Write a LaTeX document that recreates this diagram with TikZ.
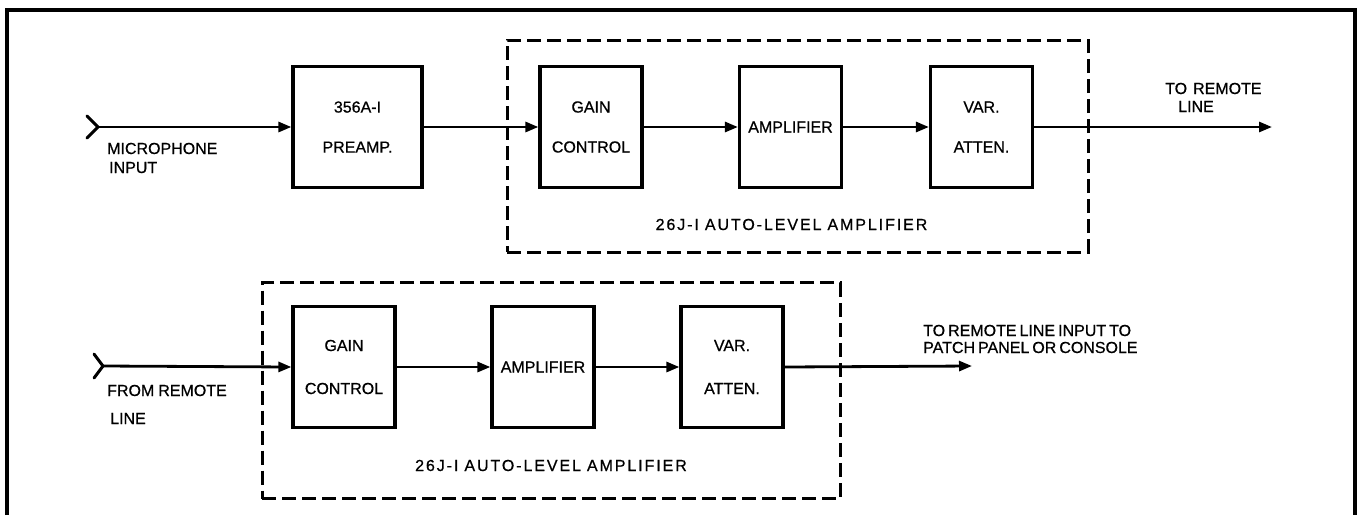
\documentclass[tikz,border=0pt]{standalone}
\usepackage{fontspec}
\setmainfont{Liberation Sans}[FakeBold=0.7]
\usetikzlibrary{arrows.meta}
\begin{document}
\begin{tikzpicture}[x=1pt,y=-1pt,
  lbl/.style={font=\fontsize{16}{19}\selectfont, inner sep=0pt},
  blk/.style={draw, line width=3.2pt, minimum width=102pt, minimum height=121pt,
              inner sep=0pt, align=center, font=\fontsize{16}{19}\selectfont},
  grp/.style={draw, line width=3pt, dash pattern=on 14pt off 6pt,
              inner sep=0pt},
  conn/.style={line width=2.8pt},
  arr/.style={conn, -{Triangle[length=13pt,width=10pt]}},
  jack/.style={line width=3pt, line cap=round}]
\useasboundingbox (0,0) rectangle (1359,515);
\draw[line width=3.4pt] (7,515) -- (7,10) -- (1355,10) -- (1355,515);

% ---------- top chain ----------
\node[grp, minimum width=581pt, minimum height=212pt] (grp1) at (797.5,146) {};
\node[blk, minimum width=129pt] (pre) at (357.5,127) {356A-I\\[21pt]PREAMP.};
\node[blk] (gain1) at (591,127) {GAIN\\[21pt]CONTROL};
\node[blk] (amp1) at (790.5,127) {AMPLIFIER};
\node[blk] (var1) at (981.5,127) {VAR.\\[21pt]ATTEN.};
\coordinate (mic) at (98,127);
\coordinate (out1) at (1272,127);
\draw[jack] (mic) -- ++(-11,-11) (mic) -- ++(-11,11);
\draw[arr] (mic) -- (pre.west);
\draw[arr] (pre.east) -- (gain1.west);
\draw[arr] (gain1.east) -- (amp1.west);
\draw[arr] (amp1.east) -- (var1.west);
\draw[arr] (var1.east) -- (out1);
\node[lbl, anchor=base west] (micA) at (107,154) {MICROPHONE};
\node[lbl, anchor=base west] (micB) at (109,173) {INPUT};
\node[lbl, anchor=base west] (toA) at (1165,94) {TO\hspace{6pt}REMOTE};
\node[lbl, anchor=base west] (toB) at (1178,112) {LINE};
\node[lbl, anchor=base] (g1lab) at (791.5,230)
  {\addfontfeature{LetterSpace=12}26J-I\hspace{6pt}AUTO-LEVEL\hspace{6pt}AMPLIFIER};

% ---------- bottom chain ----------
\node[grp, minimum width=578pt, minimum height=216pt] (grp2) at (551,390.5) {};
\node[blk] (gain2) at (344,367) {GAIN\\[24pt]CONTROL};
\node[blk] (amp2) at (543,367) {AMPLIFIER};
\node[blk] (var2) at (732,367) {VAR.\\[24pt]ATTEN.};
\coordinate (rem) at (103,366);
\coordinate (out2) at (972,366);
\draw[jack] (rem) -- ++(-9,-12) (rem) -- ++(-9,12);
\draw[arr] (rem) -- (gain2.west);
\draw[arr] (gain2.east) -- (amp2.west);
\draw[arr] (amp2.east) -- (var2.west);
\draw[arr] (var2.east) -- (out2);
\node[lbl, anchor=base west] (frA) at (107,396) {FROM\hspace{4pt}REMOTE};
\node[lbl, anchor=base west] (frB) at (110,424) {LINE};
\node[lbl, anchor=base west] (patA) at (923,336) {TO\hspace{3pt}REMOTE\hspace{3pt}LINE\hspace{3pt}INPUT\hspace{3pt}TO};
\node[lbl, anchor=base west] (patB) at (923,353) {PATCH\hspace{3pt}PANEL\hspace{3pt}OR\hspace{3pt}CONSOLE};
\node[lbl, anchor=base] (g2lab) at (551,471)
  {\addfontfeature{LetterSpace=12}26J-I\hspace{6pt}AUTO-LEVEL\hspace{6pt}AMPLIFIER};
\end{tikzpicture}
\end{document}
